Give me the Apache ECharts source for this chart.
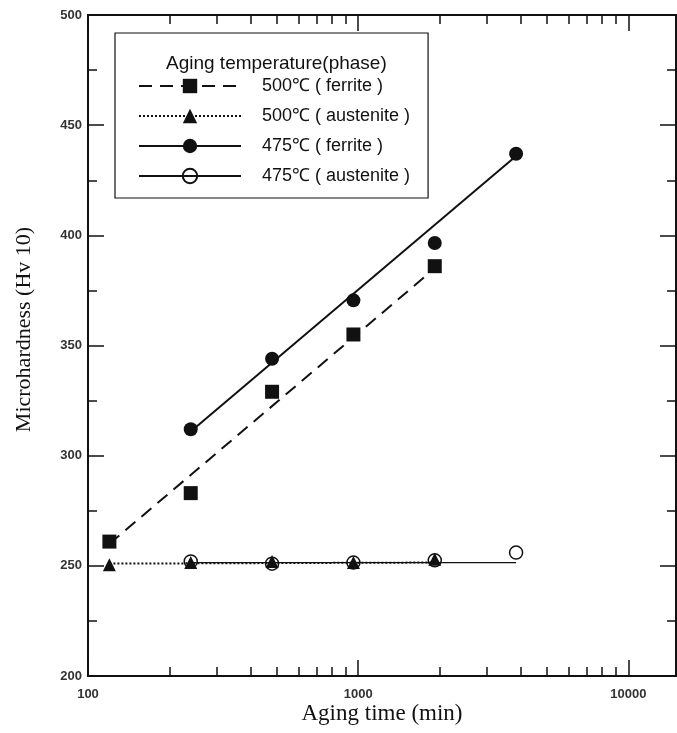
<!DOCTYPE html>
<html>
<head>
<meta charset="utf-8">
<script src="https://cdn.jsdelivr.net/npm/echarts@6/dist/echarts.min.js"></script>
<style>
  html, body { margin: 0; padding: 0; background: #fff; }
  #chart { width: 677px; height: 733px; }
</style>
</head>
<body>
<div id="chart"></div>
<script>
// 数据 (aging time in min, microhardness Hv10)
const ferrite500Time = [120, 240, 480, 960, 1920];
const ferrite500Hv = [261, 283, 329, 355, 386];
const austenite500Time = [120, 240, 480, 960, 1920];
const austenite500Hv = [250.5, 251.5, 252, 251.5, 253];
const ferrite475Time = [240, 480, 960, 1920, 3840];
const ferrite475Hv = [312, 344, 370.5, 396.5, 437];
const austenite475Time = [240, 480, 960, 1920, 3840];
const austenite475Hv = [252, 251, 251.5, 252.5, 256];

// fitted lines (end points)
const fitFerrite500 = [[120, 260], [1920, 385]];
const fitAustenite500 = [[120, 251], [1920, 251.5]];
const fitFerrite475 = [[240, 311], [3840, 436]];
const fitAustenite475 = [[240, 251.5], [3840, 251.5]];

const majorX = [100, 1000, 10000];
const minorX = [200, 300, 400, 500, 600, 700, 800, 900, 2000, 3000, 4000, 5000, 6000, 7000, 8000, 9000];

const names = ['500℃ ( ferrite )', '500℃ ( austenite )', '475℃ ( ferrite )', '475℃ ( austenite )'];

const pairs = (xs, ys) => xs.map((x, i) => [x, ys[i]]);

const chart = echarts.init(document.getElementById('chart'));

const logAxis = (extra) => Object.assign({
  type: 'log',
  logBase: 10,
  min: 100,
  max: 15000,
  axisLine: { show: true, lineStyle: { color: '#111', width: 2 } },
  splitLine: { show: false },
  axisLabel: { show: false },
  axisTick: { show: false }
}, extra);

const option = {
  animation: false,
  backgroundColor: '#fff',
  title: {
    text: 'Aging temperature(phase)',
    left: 161,
    top: 49,
    textStyle: { fontFamily: 'Liberation Sans, Arial', fontSize: 19, fontWeight: 'normal', color: '#111' }
  },
  legend: {
    data: names.map(n => ({ name: n, lineStyle: { opacity: 1 } })),
    orient: 'vertical',
    left: 115,
    top: 33,
    padding: [44, 18, 13, 23],
    itemWidth: 102,
    itemHeight: 18,
    itemGap: 12,
    borderColor: '#111',
    borderWidth: 1.2,
    borderRadius: 0,
    selectedMode: false,
    textStyle: { fontFamily: 'Liberation Sans, Arial', fontSize: 18, color: '#111', padding: [0, 0, 0, 16] }
  },
  grid: { left: 88, right: 1, top: 15, bottom: 57, outerBoundsMode: 'none', containLabel: false },
  xAxis: [
    logAxis({
      position: 'bottom',
      name: 'Aging time (min)',
      nameLocation: 'middle',
      nameGap: 26,
      nameMoveOverlap: false,
      nameTextStyle: { fontFamily: 'Liberation Serif, Times New Roman', fontSize: 23, color: '#111' },
      axisLabel: {
        show: true, customValues: majorX, margin: 12,
        formatter: (v) => String(v),
        fontFamily: 'Liberation Sans, Arial', fontSize: 13, fontWeight: 'bold', color: '#333'
      },
      axisTick: { show: true, inside: true, length: 16, customValues: majorX, lineStyle: { color: '#111', width: 1.5 } }
    }),
    logAxis({
      position: 'bottom',
      axisTick: { show: true, inside: true, length: 9, customValues: minorX, lineStyle: { color: '#111', width: 1.5 } }
    }),
    logAxis({
      position: 'top',
      axisTick: { show: true, inside: true, length: 16, customValues: majorX, lineStyle: { color: '#111', width: 1.5 } }
    }),
    logAxis({
      position: 'top',
      axisTick: { show: true, inside: true, length: 9, customValues: minorX, lineStyle: { color: '#111', width: 1.5 } }
    })
  ],
  yAxis: [
    {
      type: 'value',
      min: 200,
      max: 500,
      interval: 50,
      position: 'left',
      name: 'Microhardness (Hv 10)',
      nameLocation: 'middle',
      nameGap: 53,
      nameMoveOverlap: false,
      nameTextStyle: { fontFamily: 'Liberation Serif, Times New Roman', fontSize: 22, color: '#111', padding: [0, 0, 0, 32] },
      axisLine: { show: true, lineStyle: { color: '#111', width: 2 } },
      axisTick: { show: true, inside: true, length: 16, lineStyle: { color: '#111', width: 1.5 } },
      minorTick: { show: true, splitNumber: 2, length: 9, lineStyle: { color: '#111', width: 1.5 } },
      splitLine: { show: false },
      axisLabel: { margin: 6, fontFamily: 'Liberation Sans, Arial', fontSize: 13, fontWeight: 'bold', color: '#333' }
    },
    {
      type: 'value',
      min: 200,
      max: 500,
      interval: 50,
      position: 'right',
      axisLine: { show: true, lineStyle: { color: '#111', width: 2 } },
      axisTick: { show: true, inside: true, length: 16, lineStyle: { color: '#111', width: 1.5 } },
      minorTick: { show: true, splitNumber: 2, length: 9, lineStyle: { color: '#111', width: 1.5 } },
      splitLine: { show: false },
      axisLabel: { show: false }
    }
  ],
  series: [
    // 拟合线
    { type: 'line', data: fitFerrite500, showSymbol: false, silent: true,
      lineStyle: { color: '#111', width: 2, type: [13, 8] } },
    { type: 'line', data: fitAustenite500, showSymbol: false, silent: true,
      lineStyle: { color: '#111', width: 2, type: [2, 2] } },
    { type: 'line', data: fitFerrite475, showSymbol: false, silent: true,
      lineStyle: { color: '#111', width: 2 } },
    { type: 'line', data: fitAustenite475, showSymbol: false, silent: true,
      lineStyle: { color: '#111', width: 1.3 } },
    // 数据点
    { name: names[3], type: 'line', data: pairs(austenite475Time, austenite475Hv),
      symbol: 'circle', symbolSize: 13,
      itemStyle: { color: 'rgba(255,255,255,0)', borderColor: '#111', borderWidth: 1.5 },
      lineStyle: { color: '#111', width: 1.3, opacity: 0 } },
    { name: names[1], type: 'line', data: pairs(austenite500Time, austenite500Hv),
      symbol: 'triangle', symbolSize: 13,
      itemStyle: { color: '#111' },
      lineStyle: { color: '#111', width: 2, type: [2, 2], opacity: 0 } },
    { name: names[0], type: 'line', data: pairs(ferrite500Time, ferrite500Hv),
      symbol: 'rect', symbolSize: 14,
      itemStyle: { color: '#111' },
      lineStyle: { color: '#111', width: 2, type: [13, 8], opacity: 0 } },
    { name: names[2], type: 'line', data: pairs(ferrite475Time, ferrite475Hv),
      symbol: 'circle', symbolSize: 14,
      itemStyle: { color: '#111' },
      lineStyle: { color: '#111', width: 2, opacity: 0 } }
  ]
};

chart.setOption(option);
</script>
</body>
</html>
